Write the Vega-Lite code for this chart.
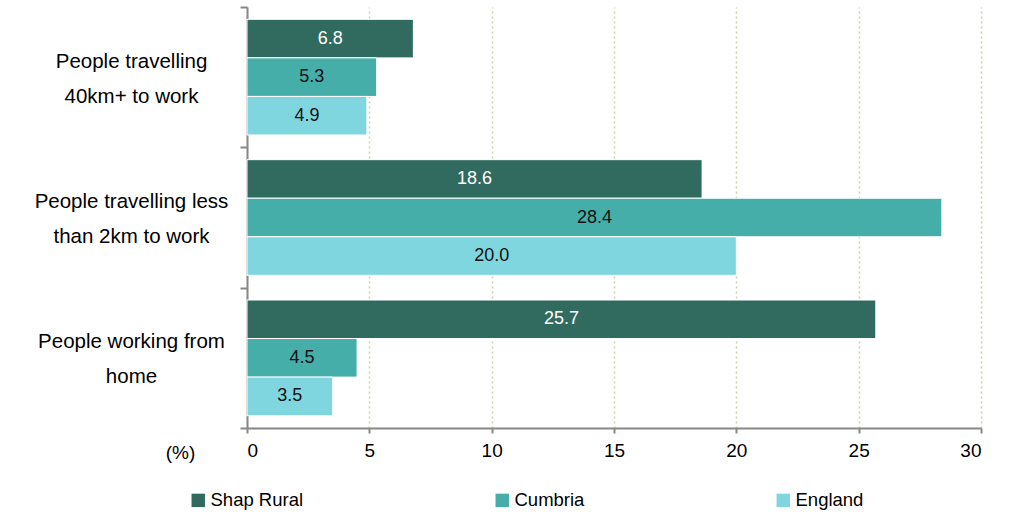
{
  "$schema": "https://vega.github.io/schema/vega-lite/v6.json",
  "width": 734,
  "height": 421,
  "autosize": "none",
  "padding": {"left": 247, "top": 7, "right": 34, "bottom": 84},
  "background": "white",
  "config": {
    "view": {"stroke": null},
    "font": "Liberation Sans"
  },
  "data": {
    "values": [
      {"category": "People travelling|40km+ to work", "area": "Shap Rural", "value": 6.8},
      {"category": "People travelling|40km+ to work", "area": "Cumbria", "value": 5.3},
      {"category": "People travelling|40km+ to work", "area": "England", "value": 4.9},
      {"category": "People travelling less|than 2km to work", "area": "Shap Rural", "value": 18.6},
      {"category": "People travelling less|than 2km to work", "area": "Cumbria", "value": 28.4},
      {"category": "People travelling less|than 2km to work", "area": "England", "value": 20.0},
      {"category": "People working from|home", "area": "Shap Rural", "value": 25.7},
      {"category": "People working from|home", "area": "Cumbria", "value": 4.5},
      {"category": "People working from|home", "area": "England", "value": 3.5}
    ]
  },
  "encoding": {
    "y": {
      "field": "category",
      "type": "nominal",
      "sort": null,
      "scale": {"paddingInner": 0, "paddingOuter": 0},
      "axis": {
        "title": null,
        "labelExpr": "split(datum.label, '|')",
        "labelAlign": "center",
        "labelFontSize": 20.5,
        "labelColor": "#000000",
        "labelLineHeight": 35,
        "labelOffset": -16,
        "labelPadding": 109,
        "labelLimit": 400,
        "tickBand": "extent",
        "tickSize": 7,
        "tickColor": "#888888",
        "tickWidth": 2,
        "domainColor": "#888888",
        "domainWidth": 2,
        "grid": false
      }
    },
    "yOffset": {
      "field": "area",
      "type": "nominal",
      "sort": ["Shap Rural", "Cumbria", "England"],
      "scale": {"paddingInner": 0, "paddingOuter": 0.32}
    }
  },
  "layer": [
    {
      "mark": {"type": "bar", "stroke": "white", "strokeWidth": 1},
      "encoding": {
        "x": {
          "field": "value",
          "type": "quantitative",
          "scale": {"domain": [0, 30], "nice": false},
          "axis": {
            "values": [0, 5, 10, 15, 20, 25, 30],
            "title": "(%)",
            "titleFontSize": 19,
            "titleFontWeight": "normal",
            "titleColor": "#000000",
            "titleX": -67,
            "titleY": 24,
            "titleAlign": "center",
            "titleBaseline": "middle",
            "labelFontSize": 19,
            "labelColor": "#000000",
            "labelPadding": 8,
            "tickSize": 5,
            "tickColor": "#888888",
            "tickWidth": 2,
            "domainColor": "#888888",
            "domainWidth": 2,
            "grid": true,
            "gridColor": "#cfcfa8",
            "gridDash": [2, 3],
            "gridWidth": 1.5
          }
        },
        "color": {
          "field": "area",
          "type": "nominal",
          "sort": ["Shap Rural", "Cumbria", "England"],
          "scale": {"domain": ["Shap Rural", "Cumbria", "England"], "range": ["#316b5f", "#45aea9", "#7fd6de"]},
          "legend": {
            "title": null,
            "orient": "none",
            "legendX": -58,
            "legendY": 484,
            "direction": "horizontal",
            "symbolType": "square",
            "symbolSize": 180,
            "symbolStrokeWidth": 0,
            "labelFontSize": 18.5,
            "labelColor": "#000000",
            "labelOffset": 3,
            "columnPadding": 189
          }
        }
      }
    },
    {
      "transform": [{"calculate": "datum.value / 2", "as": "mid"}],
      "mark": {"type": "text", "fontSize": 18, "baseline": "middle", "align": "center"},
      "encoding": {
        "x": {"field": "mid", "type": "quantitative"},
        "text": {"field": "value", "type": "quantitative", "format": ".1f"},
        "color": {
          "condition": {"test": "datum.area === 'Shap Rural'", "value": "#ffffff"},
          "value": "#111111"
        }
      }
    }
  ]
}
